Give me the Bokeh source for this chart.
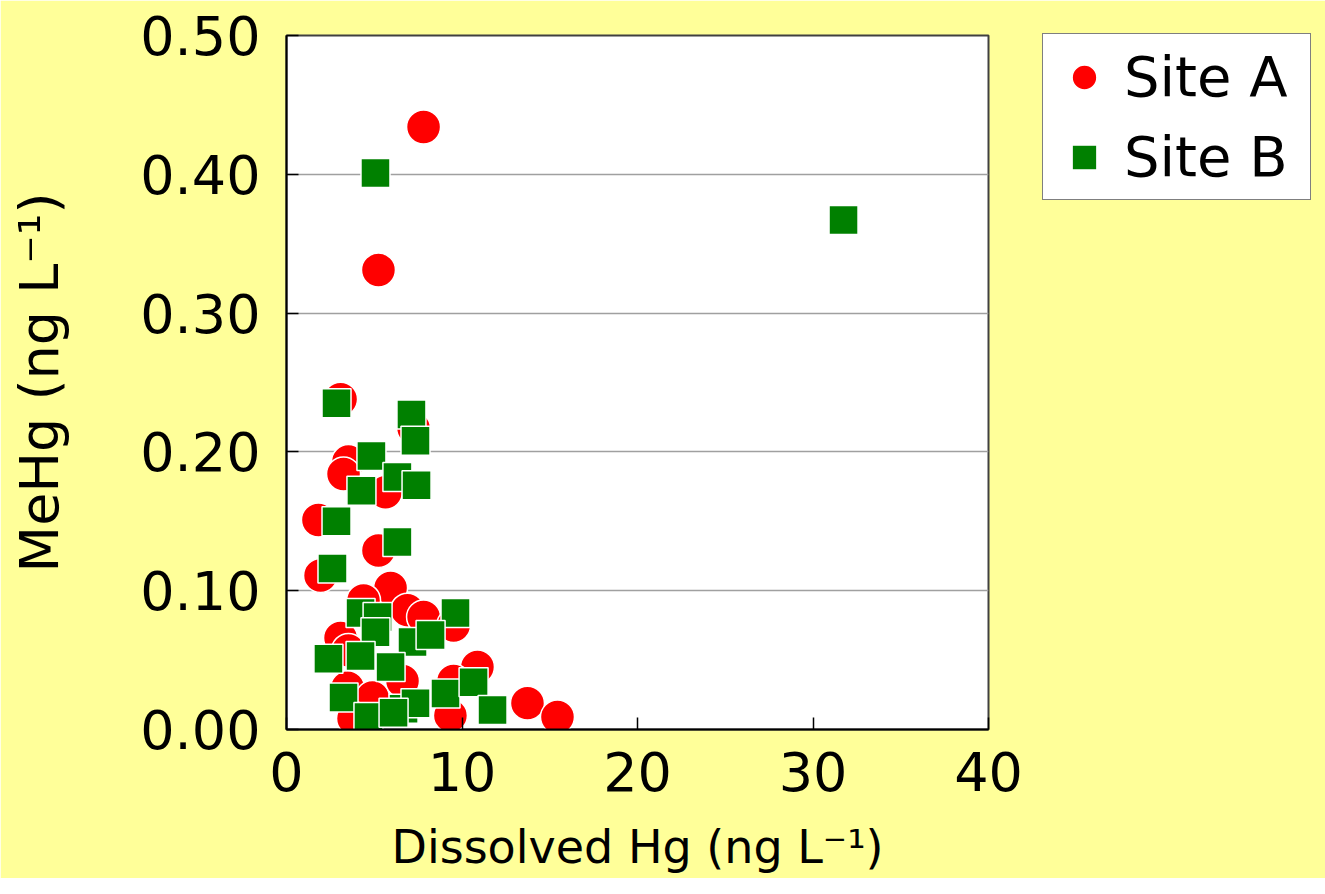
from bokeh.plotting import figure
from bokeh.models import Legend, LegendItem, NumeralTickFormatter, FixedTicker, Range1d
from bokeh.embed import file_html
from bokeh.resources import INLINE

# Site A (red circles)
site_a_x = [7.81, 5.24, 3.08, 7.24, 3.53, 3.25, 5.64, 1.82, 5.24, 1.94, 5.93, 4.39, 6.89,
            7.81, 9.52, 3.08, 10.88, 3.48, 4.90, 6.61, 9.52, 13.73, 15.44, 3.82, 9.34, 3.53]
site_a_y = [0.434, 0.331, 0.238, 0.217, 0.193, 0.184, 0.171, 0.151, 0.129, 0.111, 0.102, 0.093, 0.086,
            0.081, 0.075, 0.066, 0.045, 0.030, 0.023, 0.035, 0.035, 0.019, 0.009, 0.008, 0.010, 0.057]

# Site B (green squares)
site_b_x = [5.07, 31.74, 2.85, 7.12, 7.35, 4.84, 6.32, 4.27, 7.41, 2.85, 6.32, 2.62, 4.22, 5.19,
            5.07, 9.63, 7.18, 8.21, 2.39, 4.22, 5.93, 3.25, 4.67, 6.67, 7.35, 9.06, 10.66, 11.74, 6.10]
site_b_y = [0.401, 0.367, 0.235, 0.227, 0.208, 0.197, 0.182, 0.172, 0.176, 0.150, 0.135, 0.116, 0.084, 0.081,
            0.070, 0.084, 0.063, 0.068, 0.051, 0.053, 0.045, 0.023, 0.009, 0.015, 0.019, 0.026, 0.034, 0.014, 0.012]

x_ticks = [0, 10, 20, 30, 40]
y_ticks = [0.0, 0.1, 0.2, 0.3, 0.4, 0.5]

FONT = "DejaVu Sans"

p = figure(frame_width=702, frame_height=694,
           x_range=Range1d(0, 40), y_range=Range1d(0, 0.5),
           output_backend="svg", toolbar_location=None,
           min_border_left=286, min_border_right=321, min_border_top=35, min_border_bottom=149,
           background_fill_color="white", border_fill_color="#FFFF99")

ra = p.scatter(site_a_x, site_a_y, marker="circle", size=34, fill_color="#FF0000",
               line_color="white", line_width=1.5)
rb = p.scatter(site_b_x, site_b_y, marker="square", size=29, fill_color="#008000",
               line_color="white", line_width=1.5)

p.xaxis.ticker = FixedTicker(ticks=x_ticks)
p.yaxis.ticker = FixedTicker(ticks=y_ticks)
p.yaxis.formatter = NumeralTickFormatter(format="0.00")

p.xgrid.visible = False
p.ygrid.grid_line_color = "#a0a0a0"
p.ygrid.grid_line_width = 1.5

for ax in (p.xaxis, p.yaxis):
    ax.axis_line_color = "black"
    ax.axis_line_width = 2
    ax.major_tick_in = 12
    ax.major_tick_out = 0
    ax.major_tick_line_color = "black"
    ax.major_tick_line_width = 1.5
    ax.minor_tick_line_color = None
    ax.major_label_text_font = FONT
    ax.major_label_text_font_size = "54px"
    ax.major_label_text_color = "black"
    ax.axis_label_text_font = FONT
    ax.axis_label_text_font_style = "normal"
    ax.axis_label_text_color = "black"

p.xaxis.axis_label = "Dissolved Hg (ng L\u207b\u00b9)"
p.yaxis.axis_label = "MeHg (ng L\u207b\u00b9)"
p.xaxis.axis_label_text_font_size = "46px"
p.yaxis.axis_label_text_font_size = "54px"
p.xaxis.major_label_standoff = 22
p.yaxis.major_label_standoff = 26
p.xaxis.axis_label_standoff = 26
p.yaxis.axis_label_standoff = 66

p.outline_line_color = "#404040"
p.outline_line_width = 2

legend = Legend(items=[LegendItem(label="Site A", renderers=[ra]),
                       LegendItem(label="Site B", renderers=[rb])],
                location=(54, 529), margin=0, padding=10, spacing=15,
                glyph_width=62, glyph_height=62, label_standoff=9, label_width=176,
                label_text_font=FONT, label_text_font_size="56px", label_text_color="black",
                border_line_color="black", border_line_width=1.5,
                background_fill_color="white", background_fill_alpha=1.0)
p.add_layout(legend, "right")

open("out.html", "w").write(file_html(p, INLINE))
